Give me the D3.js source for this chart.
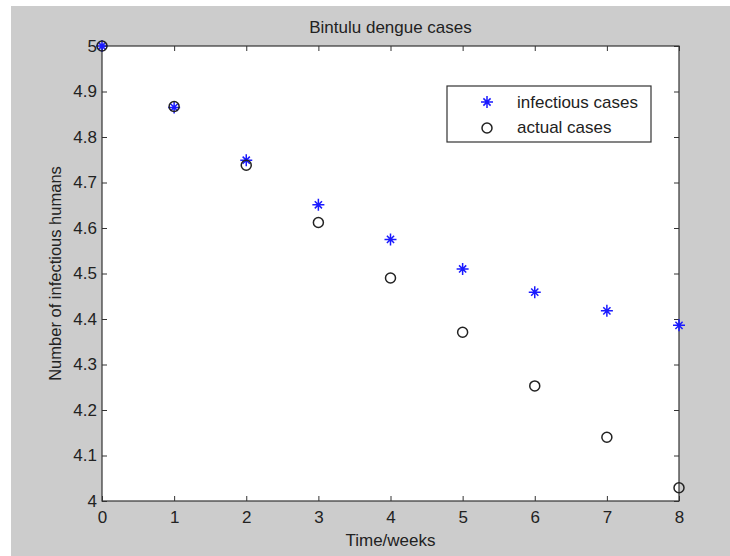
<!DOCTYPE html>
<html>
<head>
<meta charset="utf-8">
<script src="https://cdn.jsdelivr.net/npm/d3@7"></script>
<style>
  body { margin: 0; background: #fff; }
  svg text { font-family: "Liberation Sans", Arial, sans-serif; fill: #222; }
</style>
</head>
<body>
<div id="chart"></div>
<script>
// values
const weeks = [0, 1, 2, 3, 4, 5, 6, 7, 8];
const infectious = [5.0, 4.865, 4.749, 4.651, 4.575, 4.510, 4.459, 4.418, 4.386];
const actual = [5.0, 4.867, 4.738, 4.612, 4.490, 4.371, 4.253, 4.140, 4.029];
const xTicks = [0, 1, 2, 3, 4, 5, 6, 7, 8];
const yTicks = [4, 4.1, 4.2, 4.3, 4.4, 4.5, 4.6, 4.7, 4.8, 4.9, 5];

const width = 730;
const height = 556;
const margin = { top: 46, right: 51, bottom: 55, left: 102 };
const fontSize = "17px";

const svg = d3.select("#chart")
  .append("svg")
  .attr("width", width)
  .attr("height", height);

// figure background (MATLAB grey)
svg.append("rect")
  .attr("x", 11).attr("y", 6)
  .attr("width", width - 11).attr("height", height - 6)
  .attr("fill", "#cccccc");

const x = d3.scaleLinear()
  .domain([0, 8])
  .range([margin.left, width - margin.right]);

const y = d3.scaleLinear()
  .domain([4, 5])
  .range([height - margin.bottom, margin.top]);

// axes area
svg.append("rect")
  .attr("x", x(0)).attr("y", y(5))
  .attr("width", x(8) - x(0)).attr("height", y(4) - y(5))
  .attr("fill", "#fff");

const tickLen = 5;
const axisColor = "#333";

// ticks inside, on all four sides
function styleAxis(g) {
  g.select(".domain").remove();
  g.selectAll("line").attr("stroke", axisColor);
  g.selectAll("text").style("font-size", fontSize).attr("fill", "#222");
}

svg.append("g")
  .attr("transform", `translate(0,${y(4)})`)
  .call(d3.axisBottom(x).tickValues(xTicks).tickFormat(d3.format("d"))
    .tickSizeInner(-tickLen).tickSizeOuter(0).tickPadding(10))
  .call(styleAxis);

svg.append("g")
  .attr("transform", `translate(0,${y(5)})`)
  .call(d3.axisTop(x).tickValues(xTicks).tickFormat("")
    .tickSizeInner(-tickLen).tickSizeOuter(0))
  .call(styleAxis);

svg.append("g")
  .attr("transform", `translate(${x(0)},0)`)
  .call(d3.axisLeft(y).tickValues(yTicks).tickFormat(d => String(+d.toFixed(1)))
    .tickSizeInner(-tickLen).tickSizeOuter(0).tickPadding(5))
  .call(styleAxis);

svg.append("g")
  .attr("transform", `translate(${x(8)},0)`)
  .call(d3.axisRight(y).tickValues(yTicks).tickFormat("")
    .tickSizeInner(-tickLen).tickSizeOuter(0))
  .call(styleAxis);

// box
svg.append("rect")
  .attr("x", x(0)).attr("y", y(5))
  .attr("width", x(8) - x(0)).attr("height", y(4) - y(5))
  .attr("fill", "none")
  .attr("stroke", axisColor)
  .attr("stroke-width", 1.2);

// star marker path (MATLAB '*')
function star(s) {
  const d = s * 0.6;
  return `M0,${-s}V${s}M${-s},0H${s}M${-d},${-d}L${d},${d}M${-d},${d}L${d},${-d}`;
}

const pts1 = weeks.map((w, i) => ({ w: w, v: infectious[i] }));
const pts2 = weeks.map((w, i) => ({ w: w, v: actual[i] }));

svg.append("g").selectAll("path")
  .data(pts1)
  .enter()
  .append("path")
  .attr("transform", d => `translate(${x(d.w)},${y(d.v)})`)
  .attr("d", star(6))
  .attr("stroke", "#1a1aff")
  .attr("stroke-width", 1.5);

svg.append("g").selectAll("circle")
  .data(pts2)
  .enter()
  .append("circle")
  .attr("cx", d => x(d.w))
  .attr("cy", d => y(d.v))
  .attr("r", 5)
  .attr("fill", "none")
  .attr("stroke", "#222")
  .attr("stroke-width", 1.5);

// title and labels
svg.append("text")
  .attr("x", (x(0) + x(8)) / 2)
  .attr("y", 33)
  .attr("text-anchor", "middle")
  .style("font-size", fontSize)
  .text("Bintulu dengue cases");

svg.append("text")
  .attr("x", (x(0) + x(8)) / 2)
  .attr("y", 546)
  .attr("text-anchor", "middle")
  .style("font-size", fontSize)
  .text("Time/weeks");

svg.append("text")
  .attr("transform", `translate(61,${(y(4) + y(5)) / 2}) rotate(-90)`)
  .attr("text-anchor", "middle")
  .style("font-size", "16.5px")
  .text("Number of infectious humans");

// legend
const leg = svg.append("g");
leg.append("rect")
  .attr("x", 447).attr("y", 86)
  .attr("width", 204).attr("height", 56)
  .attr("fill", "#fff")
  .attr("stroke", axisColor)
  .attr("stroke-width", 1.2);

leg.append("path")
  .attr("transform", "translate(487,102)")
  .attr("d", star(6))
  .attr("stroke", "#1a1aff")
  .attr("stroke-width", 1.5);
leg.append("text")
  .attr("x", 517).attr("y", 108)
  .style("font-size", fontSize)
  .text("infectious cases");

leg.append("circle")
  .attr("cx", 487).attr("cy", 128)
  .attr("r", 5)
  .attr("fill", "none")
  .attr("stroke", "#222")
  .attr("stroke-width", 1.5);
leg.append("text")
  .attr("x", 517).attr("y", 133)
  .style("font-size", fontSize)
  .text("actual cases");
</script>
</body>
</html>
